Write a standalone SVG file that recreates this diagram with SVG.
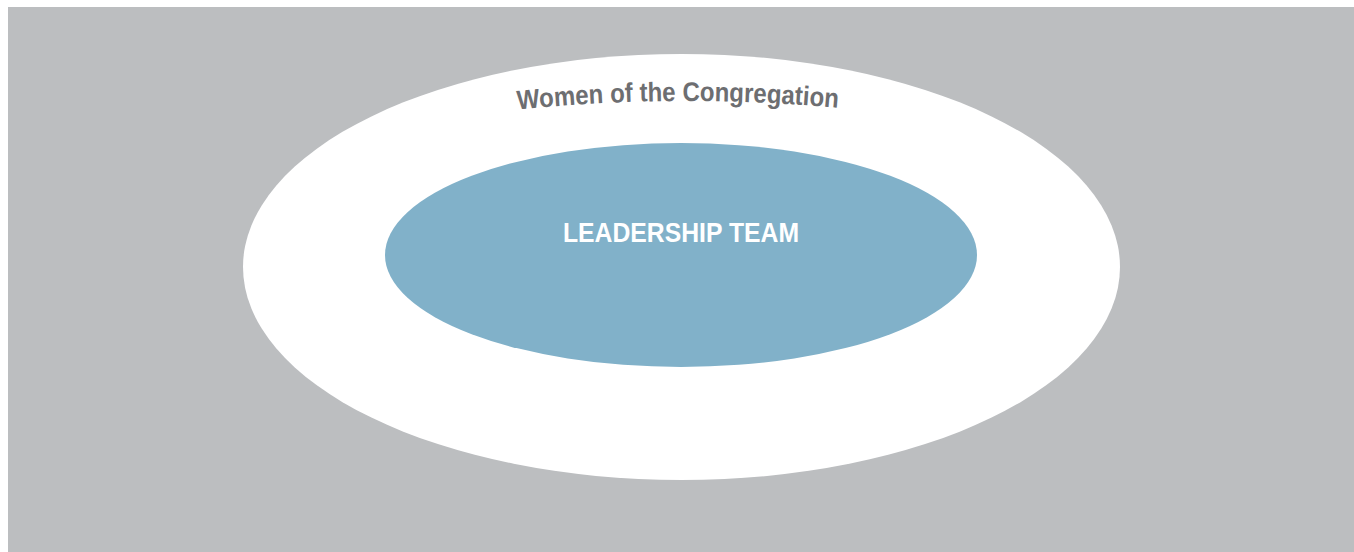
<svg xmlns="http://www.w3.org/2000/svg" width="1354" height="552" viewBox="0 0 1354 552">
<style>
.lbl{font-family:"Liberation Sans","DejaVu Sans",sans-serif;font-weight:bold}
</style>
<defs>
<path id="arc" d="M 478 114 Q 678 89 878 112"/>
</defs>
<rect x="0" y="0" width="1354" height="552" fill="#ffffff"/>
<rect x="8" y="7" width="1346" height="545" fill="#bcbec0"/>
<g id="women">
<ellipse cx="681.5" cy="267" rx="438.5" ry="213" fill="#ffffff"/>
<text class="lbl" font-size="27" fill="#6d6e71" textLength="321" lengthAdjust="spacingAndGlyphs"><textPath href="#arc" startOffset="50%" text-anchor="middle">Women of the Congregation</textPath></text>
</g>
<g id="leadership">
<ellipse cx="681" cy="255" rx="296" ry="112" fill="#81b1c9"/>
<text class="lbl" x="681" y="242" font-size="28" fill="#ffffff" text-anchor="middle" textLength="236" lengthAdjust="spacingAndGlyphs">LEADERSHIP TEAM</text>
</g>
<g id="connectors"/>
</svg>
